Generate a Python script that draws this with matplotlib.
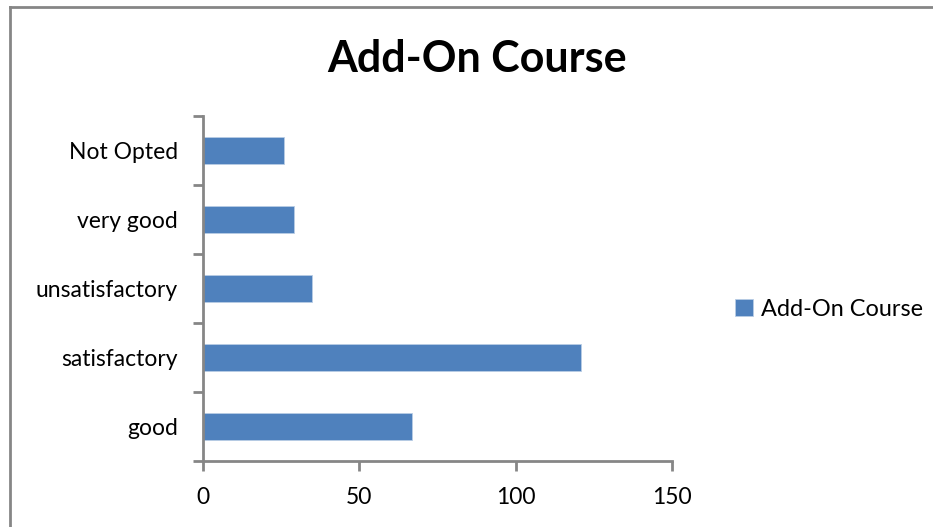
import matplotlib.pyplot as plt
from matplotlib.lines import Line2D

categories = ["good", "satisfactory", "unsatisfactory", "very good", "Not Opted"]
counts = [67, 121, 35, 29, 26]
x_ticks = [0, 50, 100, 150]

W, H = 933, 527
bar_color = "#4f81bd"
axis_color = "#868686"
font = "Lato"

fig = plt.figure(figsize=(W / 100, H / 100), dpi=100)

# outer chart frame: only top and left edges are visible in the reference
fig.lines.append(Line2D([9.5 / W, 1], [1 - 7 / H, 1 - 7 / H], transform=fig.transFigure,
                        color=axis_color, linewidth=2))
fig.lines.append(Line2D([9.5 / W, 9.5 / W], [0, 1 - 7 / H], transform=fig.transFigure,
                        color=axis_color, linewidth=2))

ax = fig.add_axes([203 / W, (H - 461) / H, 469 / W, (461 - 116) / H])

ax.barh(range(len(categories)), counts, height=0.4, color=bar_color,
        edgecolor="#b9cde5", linewidth=0.6, label="Add-On Course")

ax.set_xlim(0, 150)
ax.set_ylim(-0.5, len(categories) - 0.5)
ax.set_xticks(x_ticks)
ax.set_xticklabels([str(v) for v in x_ticks], fontsize=16.5, fontfamily=font)
ax.set_yticks(range(len(categories)))
ax.set_yticklabels(categories, fontsize=16.5, fontfamily=font)
ax.set_yticks([i - 0.5 for i in range(len(categories) + 1)], minor=True)

ax.tick_params(axis="y", which="major", length=0, pad=18)
ax.tick_params(axis="y", which="minor", length=7, width=2, color=axis_color)
ax.tick_params(axis="x", length=7, width=2, color=axis_color, pad=12)

for side in ["top", "right"]:
    ax.spines[side].set_visible(False)
for side in ["left", "bottom"]:
    ax.spines[side].set_color(axis_color)
    ax.spines[side].set_linewidth(2)

fig.text(477 / W, 1 - 72 / H, "Add-On Course", ha="center", va="baseline",
         fontsize=31, fontweight="bold", fontfamily=font)

fig.legend(loc="center left", bbox_to_anchor=(714 / W, 1 - 309 / H),
           frameon=False, prop={"family": font, "size": 16.9},
           handlelength=0.75, handleheight=0.75, handletextpad=0.35)

fig.savefig("out.png", dpi=100)
